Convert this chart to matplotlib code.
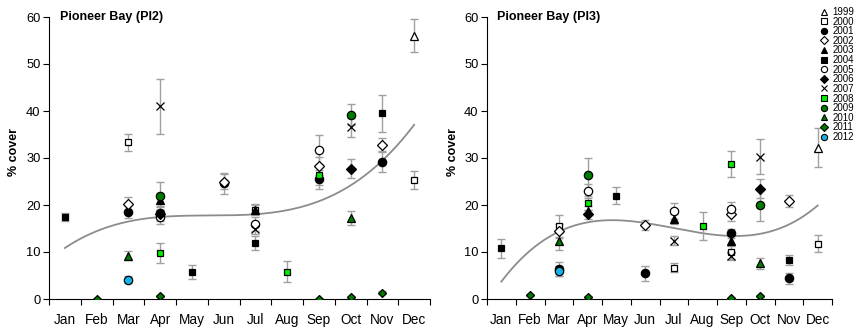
import numpy as np
import matplotlib
matplotlib.use("Agg")
import matplotlib.pyplot as plt
from matplotlib.lines import Line2D

plt.rcParams['font.family'] = ['Liberation Sans', 'DejaVu Sans']

months = ["Jan", "Feb", "Mar", "Apr", "May", "Jun", "Jul", "Aug", "Sep", "Oct", "Nov", "Dec"]
years = [1999, 2000, 2001, 2002, 2003, 2004, 2005, 2006, 2007, 2008, 2009, 2010, 2011, 2012]

# ---- Pioneer Bay (PI2): month index (1-12), mean % cover, error ----
pi2_months = {
    1999: [12], 2000: [3, 7, 12], 2001: [3, 4, 6, 9, 11], 2002: [3, 6, 9, 11],
    2003: [4, 7], 2004: [1, 5, 7, 11], 2005: [4, 7, 9], 2006: [4, 10],
    2007: [4, 7, 10], 2008: [4, 8, 9], 2009: [4, 10], 2010: [3, 10],
    2011: [2, 4, 9, 10, 11], 2012: [3],
}
pi2_vals = {
    1999: [56.0], 2000: [33.3, 19.0, 25.3], 2001: [18.5, 18.2, 24.6, 25.5, 29.2],
    2002: [20.2, 25.0, 28.3, 32.8], 2003: [21.0, 19.0], 2004: [17.5, 5.8, 12.0, 39.5],
    2005: [17.5, 16.0, 31.8], 2006: [18.0, 27.7], 2007: [41.0, 14.8, 36.5],
    2008: [9.8, 5.8, 26.3], 2009: [22.0, 39.2], 2010: [9.2, 17.2],
    2011: [0.1, 0.6, 0.1, 0.4, 1.3], 2012: [4.1],
}
pi2_errs = {
    1999: [3.5], 2000: [1.9, 1.0, 1.9], 2001: [1.3, 1.5, 2.2, 2.0, 2.2],
    2002: [1.5, 1.5, 2.0, 1.5], 2003: [1.5, 1.2], 2004: [0.8, 1.5, 1.5, 4.0],
    2005: [1.5, 1.5, 3.0], 2006: [1.0, 2.0], 2007: [5.9, 1.0, 2.0],
    2008: [2.2, 2.2, 2.0], 2009: [3.0, 2.2], 2010: [1.0, 1.5],
    2011: [0.1, 0.2, 0.1, 0.2, 0.3], 2012: [0.8],
}
pi2_trend = [10.8, 14.5, 16.5, 17.5, 17.7, 17.8, 18.0, 18.8, 20.8, 24.3, 29.5, 37.0]

# ---- Pioneer Bay (PI3) ----
pi3_months = {
    1999: [12], 2000: [3, 7, 9, 12], 2001: [3, 6, 9, 11], 2002: [3, 6, 9, 11],
    2003: [4, 7, 9], 2004: [1, 5, 11], 2005: [4, 7, 9], 2006: [4, 10],
    2007: [7, 9, 10], 2008: [4, 8, 9], 2009: [4, 10], 2010: [3, 10],
    2011: [2, 4, 9, 10], 2012: [3],
}
pi3_vals = {
    1999: [32.2], 2000: [15.5, 6.7, 10.0, 11.8], 2001: [6.4, 5.5, 14.0, 4.4],
    2002: [14.5, 15.8, 18.0, 20.8], 2003: [18.8, 17.0, 12.3], 2004: [10.8, 22.0, 8.3],
    2005: [23.0, 18.8, 19.2], 2006: [18.0, 23.5], 2007: [12.4, 9.2, 30.3],
    2008: [20.4, 15.5, 28.7], 2009: [26.4, 19.9], 2010: [12.3, 7.6],
    2011: [0.8, 0.4, 0.2, 0.6], 2012: [6.0],
}
pi3_errs = {
    1999: [4.2], 2000: [2.3, 1.0, 1.5, 1.8], 2001: [1.5, 1.6, 1.0, 1.2],
    2002: [1.5, 1.1, 1.5, 1.3], 2003: [1.0, 1.0, 1.0], 2004: [2.0, 1.8, 1.0],
    2005: [1.5, 1.7, 1.5], 2006: [1.0, 2.0], 2007: [1.0, 1.0, 3.8],
    2008: [1.5, 3.0, 2.7], 2009: [3.5, 3.3], 2010: [1.8, 1.2],
    2011: [0.2, 0.2, 0.1, 0.2], 2012: [1.0],
}
pi3_trend = [3.8, 10.0, 14.5, 16.5, 16.8, 16.0, 15.0, 14.0, 13.5, 13.8, 16.0, 19.8]

styles = {
    1999: dict(marker='^', mfc='white', mec='black'),
    2000: dict(marker='s', mfc='white', mec='black'),
    2001: dict(marker='o', mfc='black', mec='black'),
    2002: dict(marker='D', mfc='white', mec='black'),
    2003: dict(marker='^', mfc='black', mec='black'),
    2004: dict(marker='s', mfc='black', mec='black'),
    2005: dict(marker='o', mfc='white', mec='black'),
    2006: dict(marker='D', mfc='black', mec='black'),
    2007: dict(marker='x', mfc='black', mec='black'),
    2008: dict(marker='s', mfc='#00ee00', mec='black'),
    2009: dict(marker='o', mfc='#007a00', mec='black'),
    2010: dict(marker='^', mfc='#007a00', mec='black'),
    2011: dict(marker='D', mfc='#007a00', mec='black'),
    2012: dict(marker='o', mfc='#14b4e6', mec='black'),
}
sizes = {'^': 5.5, 's': 5.0, 'o': 6.0, 'D': 4.6, 'x': 6.0}

fig = plt.figure(figsize=(8.64, 3.31), dpi=100)
axL = fig.add_axes([49/864, 32/331, 381/864, 282/331])
axR = fig.add_axes([487/864, 32/331, 345/864, 282/331])


def draw(ax, mdict, vdict, edict, trend, title):
    x = np.arange(1, 13)
    coef = np.polyfit(x, trend, 3)
    xs = np.linspace(1, 12, 200)
    ax.plot(xs, np.polyval(coef, xs), color='#8c8c8c', lw=1.3, zorder=2)
    for i, yr in enumerate(years):
        st = styles[yr]
        ms = sizes[st['marker']]
        if yr == 2011:
            ms = 4.0
        ax.errorbar(mdict[yr], vdict[yr], yerr=edict[yr], fmt='none',
                    ecolor='#a0a0a0', elinewidth=1.0, capsize=2.6, capthick=1.0,
                    zorder=3 + i * 0.01)
        ax.plot(mdict[yr], vdict[yr], ls='none', marker=st['marker'],
                mfc=st['mfc'], mec=st['mec'], ms=ms, mew=0.9,
                zorder=4 + i * 0.1)
    ax.set_xlim(0.5, 12.5)
    ax.set_ylim(0, 60)
    ax.set_yticks([0, 10, 20, 30, 40, 50, 60])
    ax.set_xticks(np.arange(0.5, 13, 1))
    ax.set_xticklabels([])
    ax.set_xticks(np.arange(1, 13), minor=True)
    ax.set_xticklabels(months, minor=True, fontsize=9.8)
    ax.tick_params(axis='x', which='major', length=4, width=0.8, direction='out')
    ax.tick_params(axis='x', which='minor', length=0, pad=10)
    ax.tick_params(axis='y', length=4, width=0.8, labelsize=9.3, pad=2)
    for s in ['top', 'right']:
        ax.spines[s].set_visible(False)
    for s in ['left', 'bottom']:
        ax.spines[s].set_linewidth(0.8)
    ax.text(0.03, 1.0, title, transform=ax.transAxes, fontsize=9,
            fontweight='bold', va='center', ha='left')
    ax.set_ylabel('% cover', fontsize=9, fontweight='bold')


draw(axL, pi2_months, pi2_vals, pi2_errs, pi2_trend, 'Pioneer Bay (PI2)')
draw(axR, pi3_months, pi3_vals, pi3_errs, pi3_trend, 'Pioneer Bay (PI3)')
axL.yaxis.set_label_coords(-0.076, 0.52)
axR.yaxis.set_label_coords(-0.081, 0.52)

handles = []
for yr in years:
    st = styles[yr]
    handles.append(Line2D([], [], ls='none', marker=st['marker'], mfc=st['mfc'],
                          mec=st['mec'], ms=4.5, mew=0.8))
fig.legend(handles, [str(y) for y in years], loc='upper left',
           bbox_to_anchor=(820/864, 1 - 7/331), frameon=False, fontsize=7,
           handlelength=0.8, handletextpad=0.5, labelspacing=-0.04, borderpad=0,
           borderaxespad=0)

fig.savefig('out.png', dpi=100)
